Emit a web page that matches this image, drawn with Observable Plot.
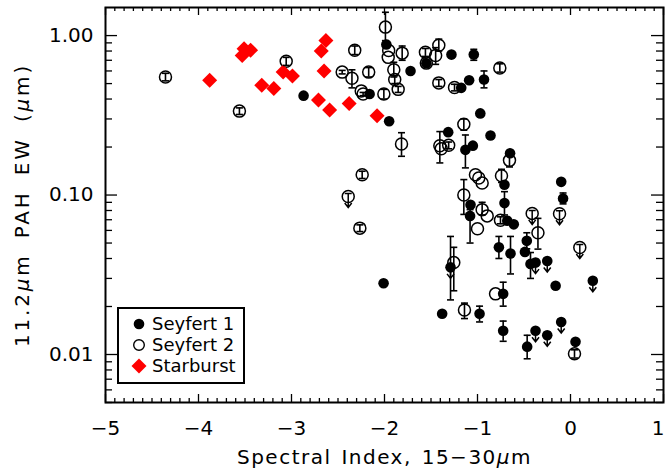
<!DOCTYPE html>
<html><head><meta charset="utf-8">
<script src="https://cdn.jsdelivr.net/npm/d3@7"></script>
<script src="https://cdn.jsdelivr.net/npm/@observablehq/plot@0.6"></script>
<style>html,body{margin:0;padding:0;background:#fff}svg{display:block}</style>
</head><body><div id="chart"></div>
<script>
// ---- Data ----
// Seyfert 1 (filled circles)
const sy1X  = [-2.87,-2.16,-1.98,-1.95,-1.72,-1.55,-1.28,-1.04,-1.175,-1.09,-0.93,-0.97,-0.86,-1.315,-1.13,-1.05,-0.65,-0.10,-0.08,-2.01,-1.075,-1.08,-0.71,-0.71,-0.68,-0.61,-0.77,-0.645,-0.47,-0.49,-0.43,-0.376,-0.25,-0.16,0.24,-1.29,-0.724,-1.38,-0.978,-0.724,-0.466,-0.376,-0.25,-0.10,0.054];
const sy1Y  = [0.42,0.43,0.88,0.29,0.60,0.67,0.76,0.76,0.47,0.525,0.53,0.325,0.236,0.248,0.192,0.204,0.183,0.121,0.095,0.028,0.087,0.074,0.116,0.089,0.069,0.0655,0.047,0.043,0.0516,0.044,0.037,0.0377,0.0386,0.027,0.029,0.0352,0.024,0.018,0.018,0.0141,0.0112,0.0141,0.0132,0.016,0.012];
const sy1Lo = [null,null,null,null,null,null,null,0.70,null,null,0.47,null,null,null,0.148,null,null,null,0.088,null,null,0.050,null,0.075,null,null,0.040,0.032,0.046,null,0.030,null,null,null,null,0.022,0.0201,null,0.016,0.0121,0.0094,null,null,null,null];
const sy1Hi = [null,null,null,null,null,null,null,0.82,null,null,0.60,null,null,null,0.238,null,null,null,0.103,null,null,0.081,null,0.105,null,null,0.055,0.055,0.058,null,0.0436,null,null,null,null,0.055,0.0284,null,0.0201,0.0162,0.0132,null,null,null,null];
const sy1UL = [0,0,0,0,0,0,0,0,0,0,0,0,0,0,0,0,0,0,0,0,0,0,0,0,0,0,0,0,0,0,0,1,1,0,1,1,0,0,0,0,0,1,1,1,0];

// Seyfert 2 (open circles)
const sy2X  = [-4.355,-3.56,-3.057,-2.455,-2.35,-2.32,-2.17,-2.25,-2.23,-2.007,-1.99,-1.955,-1.96,-1.90,-1.89,-1.853,-1.81,-1.56,-1.55,-1.45,-1.416,-1.416,-1.247,-0.76,-1.817,-2.24,-2.39,-2.265,-1.147,-1.405,-1.39,-1.31,-0.656,-1.022,-0.986,-0.95,-1.147,-0.95,-0.896,-1.0,-0.742,-0.753,-0.412,-0.118,-0.35,0.10,-1.255,-0.806,-1.14,0.043];
const sy2Y  = [0.55,0.336,0.69,0.59,0.54,0.81,0.59,0.45,0.43,0.43,1.13,0.806,0.73,0.61,0.53,0.46,0.776,0.787,0.672,0.75,0.87,0.505,0.472,0.626,0.209,0.134,0.098,0.062,0.278,0.204,0.195,0.205,0.165,0.134,0.128,0.119,0.10,0.081,0.074,0.0614,0.132,0.0694,0.0767,0.0763,0.058,0.0469,0.0377,0.024,0.019,0.0101];
const sy2Lo = [0.52,0.32,0.65,0.575,0.47,0.76,0.55,null,0.42,0.40,0.93,null,null,0.55,0.50,0.44,0.70,0.74,0.64,0.66,0.80,0.48,0.45,0.59,0.175,0.127,null,0.059,0.255,0.159,null,0.195,0.15,null,null,null,0.0756,0.075,null,null,0.12,0.066,null,null,0.0458,null,0.0251,null,0.0168,0.0095];
const sy2Hi = [0.58,0.352,0.73,0.605,0.61,0.86,0.63,null,0.44,0.46,1.40,null,null,0.68,0.56,0.48,0.86,0.83,0.70,0.84,0.95,0.53,0.495,0.665,0.246,0.141,null,0.065,0.30,0.25,null,0.215,0.18,null,null,null,0.125,0.09,null,null,0.145,0.073,null,null,0.0714,null,0.047,null,0.021,0.0107];
const sy2UL = [0,0,0,0,0,0,0,0,0,0,0,0,0,0,0,0,0,0,0,0,0,0,0,0,0,0,1,0,0,0,0,0,0,0,0,0,0,0,0,0,0,0,1,1,0,1,0,0,0,0];

// Starburst (red diamonds)
const sbX = [-3.88,-3.53,-3.51,-3.44,-3.32,-3.19,-3.09,-2.99,-2.71,-2.59,-2.68,-2.63,-2.65,-2.38,-2.08];
const sbY = [0.525,0.75,0.826,0.81,0.488,0.466,0.59,0.558,0.394,0.341,0.80,0.93,0.60,0.375,0.314];

// Axis ticks / labels
const xMajor = [-5,-4,-3,-2,-1,0,1];
const xMinor = d3.range(-50, 11).map(i => i / 10).filter(v => Math.abs(v - Math.round(v)) > 1e-9);
const yMajor = [0.01, 0.1, 1];
const yMinor = [0.005,0.006,0.007,0.008,0.009,0.02,0.03,0.04,0.05,0.06,0.07,0.08,0.09,0.2,0.3,0.4,0.5,0.6,0.7,0.8,0.9];
const xTitle = "Spectral Index, 15\u221230\u03bcm";
const yTitle = "11.2\u03bcm PAH EW (\u03bcm)";
const legendLabels = ["Seyfert 1", "Seyfert 2", "Starburst"];

// ---- Build tables ----
const sy1 = sy1X.map((x, i) => ({x, y: sy1Y[i], lo: sy1Lo[i], hi: sy1Hi[i], ul: sy1UL[i]}));
const sy2 = sy2X.map((x, i) => ({x, y: sy2Y[i], lo: sy2Lo[i], hi: sy2Hi[i], ul: sy2UL[i]}));
const sb = sbX.map((x, i) => ({x, y: sbY[i]}));
const all = sy1.concat(sy2);
const errs = all.filter(d => d.lo != null);
const uls = all.filter(d => d.ul);

const W = 665, H = 473, ML = 105, MR = 2, MT = 7, MB = 71;
const PW = W - ML - MR, PH = H - MT - MB;

const cap = {draw(c) { c.moveTo(-3.5, 0); c.lineTo(3.5, 0); }};
const arrow = {draw(c) {
  c.moveTo(-3.5, -3); c.lineTo(3.5, -3);
  c.moveTo(0, -3); c.lineTo(0, 11);
  c.moveTo(-3.5, 6.5); c.lineTo(0, 11); c.lineTo(3.5, 6.5);
}};
const diamond = {draw(c) { c.moveTo(0, -7.5); c.lineTo(7.5, 0); c.lineTo(0, 7.5); c.lineTo(-7.5, 0); c.closePath(); }};

const tickW = 1.3;
const plot = Plot.plot({
  width: W, height: H,
  marginLeft: ML, marginRight: MR, marginTop: MT, marginBottom: MB,
  style: {fontFamily: "DejaVu Sans", fontSize: "20px", color: "black", background: "white"},
  x: {domain: [-5, 1]},
  y: {type: "log", domain: [0.005, 1.5]},
  marks: [
    // ticks (inward, all four sides)
    Plot.ruleX(xMinor, {insetTop: PH - 4, strokeWidth: tickW}),
    Plot.ruleX(xMinor, {insetBottom: PH - 4, strokeWidth: tickW}),
    Plot.ruleX(xMajor, {insetTop: PH - 8, strokeWidth: tickW}),
    Plot.ruleX(xMajor, {insetBottom: PH - 8, strokeWidth: tickW}),
    Plot.ruleY(yMinor, {insetRight: PW - 7, strokeWidth: tickW}),
    Plot.ruleY(yMinor, {insetLeft: PW - 7, strokeWidth: tickW}),
    Plot.ruleY(yMajor, {insetRight: PW - 12, strokeWidth: tickW}),
    Plot.ruleY(yMajor, {insetLeft: PW - 12, strokeWidth: tickW}),
    Plot.axisX(xMajor.slice(0, -1), {tickSize: 0, tickPadding: 18, fontSize: 20, tickFormat: d3.format("d"), label: null}),
    Plot.axisX(xMajor.slice(-1), {tickSize: 0, tickPadding: 18, fontSize: 20, tickFormat: d3.format("d"), label: null, textAnchor: "end", dx: 1}),
    Plot.axisY(yMajor, {tickSize: 0, tickPadding: 12, fontSize: 20, tickFormat: d3.format(".2f"), label: null}),
    // data
    Plot.dot(sy2, {x: "x", y: "y", r: 6, stroke: "black", strokeWidth: 1.5, fill: "none"}),
    Plot.dot(sy1, {x: "x", y: "y", r: 5.3, fill: "black", stroke: "none"}),
    Plot.dot(sb, {x: "x", y: "y", symbol: diamond, fill: "#ff0000", stroke: "none"}),
    Plot.ruleX(errs, {x: "x", y1: "lo", y2: "hi", strokeWidth: 1.6}),
    Plot.dot(errs, {x: "x", y: "lo", symbol: cap, stroke: "black", strokeWidth: 1.6, fill: "none"}),
    Plot.dot(errs, {x: "x", y: "hi", symbol: cap, stroke: "black", strokeWidth: 1.6, fill: "none"}),
    Plot.dot(uls, {x: "x", y: "y", symbol: arrow, stroke: "black", strokeWidth: 1.5, fill: "none"}),
    Plot.frame({strokeWidth: 2}),
    // titles
    Plot.text([xTitle], {frameAnchor: "bottom", dy: 61, lineAnchor: "bottom", textAnchor: "middle", fontSize: 20}),
    Plot.text([yTitle], {frameAnchor: "left", dx: -83, rotate: -90, lineAnchor: "middle", textAnchor: "middle", fontSize: 20})
  ]
});

const svg = d3.select(plot);
// spacing of titles to match the wide reference face
svg.selectAll("text").filter(function() { return d3.select(this).text() === xTitle; })
  .attr("letter-spacing", 1.5).attr("word-spacing", 2);
svg.selectAll("text").filter(function() { return d3.select(this).text() === yTitle; })
  .attr("letter-spacing", 2.8).attr("word-spacing", 6);

// Legend (decoration)
const lg = svg.append("g").attr("font-family", "DejaVu Sans").attr("font-size", 18).attr("text-anchor", "start");
lg.append("rect").attr("x", 118).attr("y", 308).attr("width", 126).attr("height", 75)
  .attr("fill", "white").attr("stroke", "black").attr("stroke-width", 2);
const rows = [324, 345, 366];
lg.append("circle").attr("cx", 139).attr("cy", rows[0]).attr("r", 5.3).attr("fill", "black");
lg.append("circle").attr("cx", 139).attr("cy", rows[1]).attr("r", 5.3).attr("fill", "none").attr("stroke", "black").attr("stroke-width", 1.4);
lg.append("path").attr("d", `M139,${rows[2]-7.5}L146.5,${rows[2]}L139,${rows[2]+7.5}L131.5,${rows[2]}Z`).attr("fill", "#ff0000");
legendLabels.forEach((t, i) => {
  lg.append("text").attr("x", 152).attr("y", rows[i]).attr("dy", "0.36em").attr("fill", "black").text(t);
});

// italic mu
svg.selectAll("text").each(function() {
  const el = d3.select(this);
  if (el.selectAll("tspan").size() > 0) return;
  const s = el.text();
  if (s.indexOf("\u03bc") < 0) return;
  el.text("");
  s.split(/(\u03bc)/).forEach(part => {
    if (!part) return;
    const ts = el.append("tspan").text(part);
    if (part === "\u03bc") ts.attr("font-style", "italic");
  });
});

document.getElementById("chart").appendChild(plot);
</script>
</body></html>
